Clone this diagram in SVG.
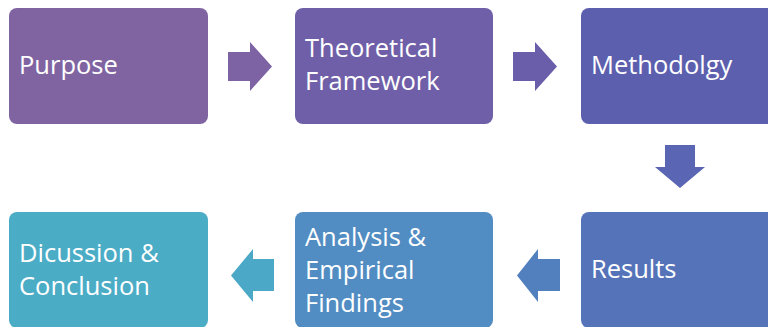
<svg xmlns="http://www.w3.org/2000/svg" width="768" height="327" viewBox="0 0 768 327">
<style>
.box{stroke:none}
.lbl{font-family:"Open Sans","Liberation Sans",Arial,sans-serif;font-size:25.5px;fill:#ffffff}
</style>
<rect width="768" height="327" fill="#ffffff"/>
<g id="connectors">
<polygon points="228,52 250,52 250,42 272,66.5 250,91 250,81 228,81" fill="#7D63A3"/>
<polygon points="513,52 535,52 535,42 557,66.5 535,91 535,81 513,81" fill="#6A5EAA"/>
<polygon points="665,145 695,145 695,167 705,167 680,188 655,167 665,167" fill="#5A65B3"/>
<polygon points="560,259 538,259 538,249 517,275.5 538,302 538,291 560,291" fill="#5280BE"/>
<polygon points="274,259 253,259 253,249 231,275.5 253,302 253,291 274,291" fill="#4BA8C6"/>
</g>
<g id="n1"><rect class="box" x="9" y="8" width="199" height="116" rx="8" fill="#8064A2"/><text class="lbl" x="19" y="74">Purpose</text></g>
<g id="n2"><rect class="box" x="295" y="8" width="198" height="116" rx="8" fill="#6F5FA8"/><text class="lbl" x="305" y="57">Theoretical</text><text class="lbl" x="305" y="90">Framework</text></g>
<g id="n3"><rect class="box" x="581" y="8" width="198" height="116" rx="8" fill="#5C5EAE"/><text class="lbl" x="591" y="74">Methodolgy</text></g>
<g id="n4"><rect class="box" x="581" y="212" width="198" height="116" rx="8" fill="#5573B9"/><text class="lbl" x="591" y="278">Results</text></g>
<g id="n5"><rect class="box" x="295" y="212" width="198" height="116" rx="8" fill="#518CC2"/><text class="lbl" x="305" y="246">Analysis &amp;</text><text class="lbl" x="305" y="279">Empirical</text><text class="lbl" x="305" y="312">Findings</text></g>
<g id="n6"><rect class="box" x="9" y="212" width="199" height="116" rx="8" fill="#4BACC6"/><text class="lbl" x="19" y="262">Dicussion &amp;</text><text class="lbl" x="19" y="295">Conclusion</text></g>
</svg>
